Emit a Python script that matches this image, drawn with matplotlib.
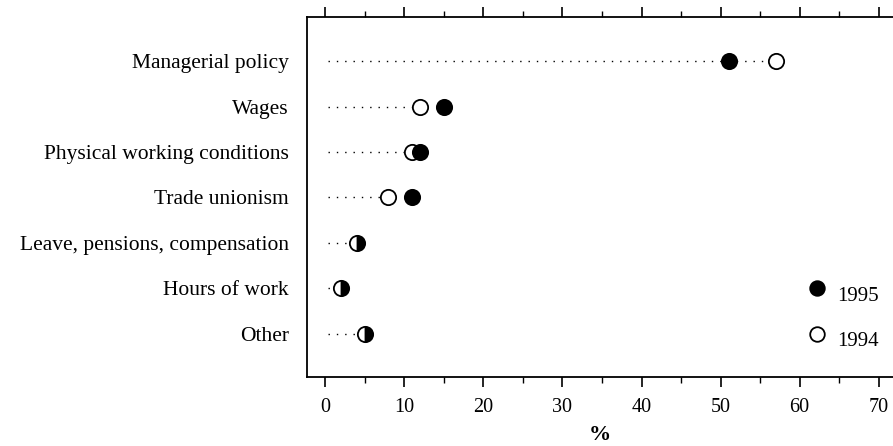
import numpy as np
import matplotlib.pyplot as plt
from matplotlib.ticker import MultipleLocator

# Categorias e percentagens
categorias = ["Managerial policy", "Wages", "Physical working conditions",
              "Trade unionism", "Leave, pensions, compensation",
              "Hours of work", "Other"]
v1994 = [57, 12, 11, 8, 4, 2, 5]
v1995 = [51, 15, 12, 11, 4, 2, 5]

plt.rcParams["font.family"] = ["Liberation Serif", "DejaVu Serif"]

fig = plt.figure(figsize=(8.93, 4.46), dpi=100)
ax = fig.add_axes([0.3438, 0.1547, 0.6562, 0.8072])

y = np.arange(len(categorias))
ms = 11

for yi, a, b in zip(y, v1994, v1995):
    # linha pontilhada ate o valor de 1994
    ax.plot([0.3, a], [yi, yi], color="black", lw=1.0, ls=(0, (1, 5)), zorder=1)
    if a == b:
        ax.plot(a, yi, "o", ms=ms, mec="black", mfc="black", mew=1.3,
                fillstyle="right", markerfacecoloralt="white", zorder=3)
    else:
        ax.plot(a, yi, "o", ms=ms, mec="black", mfc="white", mew=1.3, zorder=2)
        ax.plot(b, yi, "o", ms=ms, mec="black", mfc="black", mew=1.3, zorder=3)

# Legenda manual
ax.plot(62.2, 5.0, "o", ms=10.5, mec="black", mfc="black", mew=1.3, clip_on=False)
ax.text(64.7, 5.17, "1995", fontsize=15, va="center", ha="left")
ax.plot(62.2, 6.0, "o", ms=10.5, mec="black", mfc="white", mew=1.3, clip_on=False)
ax.text(64.7, 6.17, "1994", fontsize=15, va="center", ha="left")

ax.set_xlim(-2.3, 71.8)
ax.set_ylim(6.95, -0.97)
ax.set_yticks(y)
ax.set_yticklabels(categorias, fontsize=15.5)
ax.tick_params(axis="y", length=0, pad=13)

ax.xaxis.set_major_locator(MultipleLocator(10))
ax.xaxis.set_minor_locator(MultipleLocator(5))
ax.tick_params(axis="x", which="major", length=7, width=1.2, labelsize=14.5, pad=8,
               top=True, direction="out")
ax.tick_params(axis="x", which="minor", length=4, width=1.0, top=True, direction="out")
ax.set_xlabel("%", fontsize=16, fontweight="bold", labelpad=6)

ax.spines["right"].set_visible(False)
for s in ["left", "top", "bottom"]:
    ax.spines[s].set_linewidth(1.3)

fig.savefig("out.png", dpi=100)
